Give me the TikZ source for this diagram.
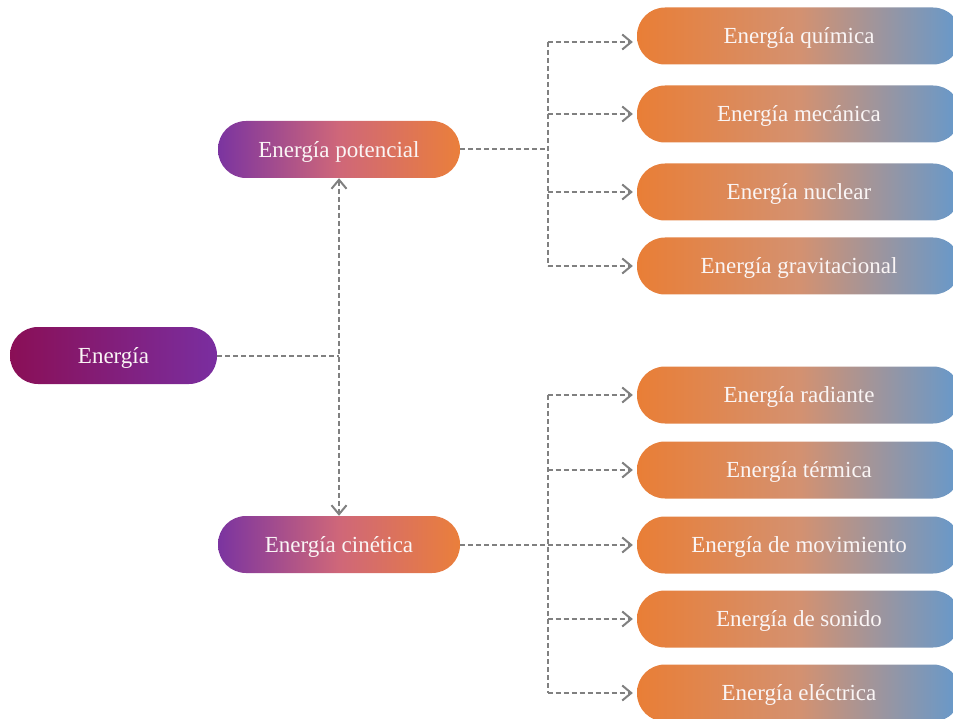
\documentclass[tikz,border=0pt]{standalone}
\usepackage{fontspec}
\setmainfont{Liberation Serif}
\usetikzlibrary{arrows.meta}
\definecolor{rootL}{HTML}{8A0F56}
\definecolor{rootR}{HTML}{7A2EA0}
\definecolor{midL}{HTML}{7B34A0}
\definecolor{midM}{HTML}{CF6779}
\definecolor{midR}{HTML}{EA7F3B}
\definecolor{leafL}{HTML}{E97E36}
\definecolor{leafM}{HTML}{D49170}
\definecolor{leafR}{HTML}{6599CC}
\definecolor{lineC}{HTML}{808080}
\definecolor{txtC}{HTML}{FAF5F5}
\tikzset{
  pill/.style={rectangle, rounded corners=28pt, minimum height=57pt, inner sep=0pt,
    text=txtC, font=\fontsize{23}{27}\selectfont, text height=16pt, text depth=0.6pt},
  rootbox/.style={pill, minimum width=207pt, left color=rootL, right color=rootR},
  midbox/.style={pill, minimum width=242pt, left color=midL, right color=midR, middle color=midM},
  leafbox/.style={pill, minimum width=324pt, left color=leafL, right color=leafR, middle color=leafM},
  dl/.style={draw=lineC, line width=2pt, dash pattern=on 5pt off 3pt},
  tipx/.tip={Straight Barb[length=9pt,width=15pt,line width=2pt]},
  arr/.style={dl, -tipx, shorten >=4pt},
  darr/.style={dl, tipx-tipx}
}
\begin{document}
\begin{tikzpicture}[x=1pt,y=-1pt]
\useasboundingbox (0,0) rectangle (953,719);
\clip (0,0) rectangle (953,719);
\node[rootbox] (root) at (113.5,355.5) {Energía};
\node[midbox] (pot) at (339,149.5) {Energía potencial};
\node[midbox] (cin) at (339,544.5) {Energía cinética};
\node[leafbox] (l1) at (799,36) {Energía química};
\node[leafbox] (l2) at (799,114) {Energía mecánica};
\node[leafbox] (l3) at (799,192) {Energía nuclear};
\node[leafbox] (l4) at (799,266) {Energía gravitacional};
\node[leafbox] (k1) at (799,395) {Energía radiante};
\node[leafbox] (k2) at (799,470) {Energía térmica};
\node[leafbox] (k3) at (799,545) {Energía de movimiento};
\node[leafbox] (k4) at (799,619) {Energía de sonido};
\node[leafbox] (k5) at (799,693) {Energía eléctrica};
% root connectors
\draw[dl] (root.east) -- (root.east -| pot.south);
\draw[darr] (pot.south) -- (cin.north);
% potencial branch
\coordinate (pj) at (547.5,149.5);
\coordinate (q1) at ([yshift=-6pt]l1.west);
\draw[dl] (pot.east) -- (pj);
\draw[dl] (pj |- q1) -- (pj |- l4.west);
\draw[arr] (pj |- q1) -- (q1);
\draw[arr] (pj |- l2.west) -- (l2.west);
\draw[arr] (pj |- l3.west) -- (l3.west);
\draw[arr] (pj |- l4.west) -- (l4.west);
% cinetica branch
\coordinate (cj) at (547.5,544.5);
\draw[dl] (cin.east) -- (cj);
\draw[dl] (cj |- k1.west) -- (cj |- k5.west);
\draw[arr] (cj |- k1.west) -- (k1.west);
\draw[arr] (cj |- k2.west) -- (k2.west);
\draw[arr] (cj |- k3.west) -- (k3.west);
\draw[arr] (cj |- k4.west) -- (k4.west);
\draw[arr] (cj |- k5.west) -- (k5.west);
\end{tikzpicture}
\end{document}
